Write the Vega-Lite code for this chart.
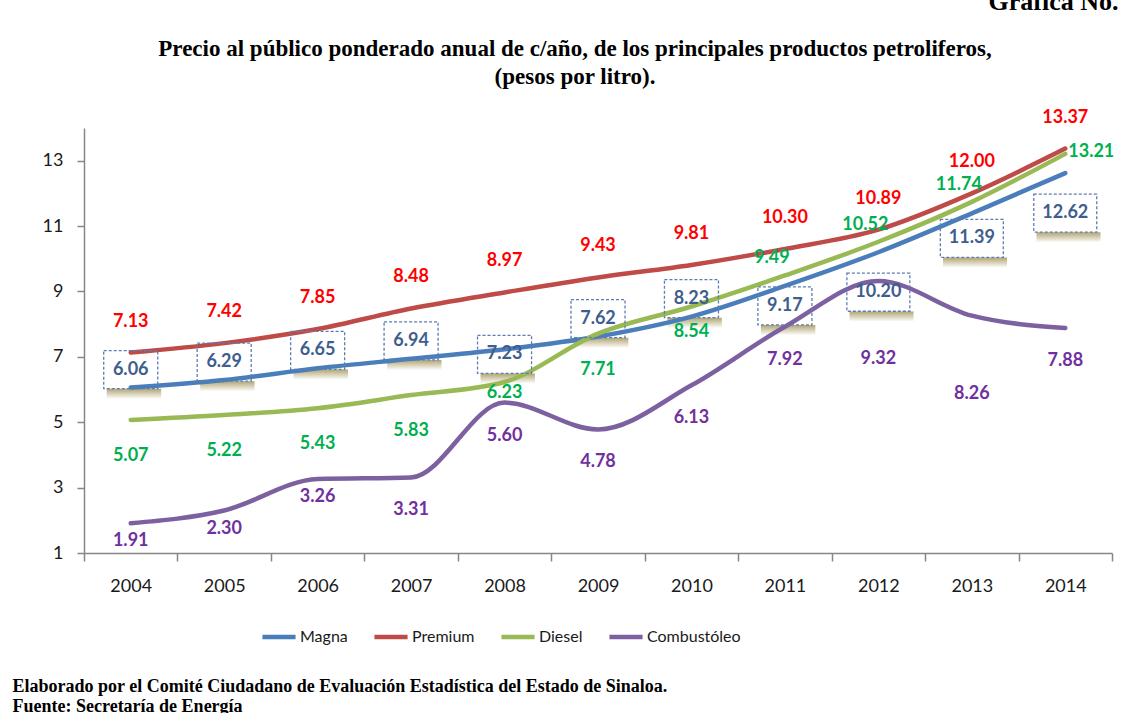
{
  "$schema": "https://vega.github.io/schema/vega-lite/v6.json",
  "width": 1028,
  "height": 425,
  "autosize": {"type": "none"},
  "padding": {"left": 84, "top": 128, "right": 18, "bottom": 160},
  "background": "white",
  "title": {
    "text": ["Precio al público ponderado anual de c/año, de los principales productos petroliferos,", "(pesos por litro)."],
    "font": "Liberation Serif", "fontSize": 23, "fontWeight": "bold", "color": "#000000",
    "anchor": "middle", "frame": "group", "dx": -23, "offset": 0, "dy": 101, "lineHeight": 28
  },
  "config": {
    "view": {"stroke": null},
    "axis": {"grid": false, "domainColor": "#868686", "domainWidth": 1.5, "tickColor": "#868686", "tickWidth": 1.5, "labelFont": "Lato", "labelFontSize": 18, "labelColor": "#1a1a1a"}
  },
  "data": {"values": [
    {"year": "2004", "series": "Magna", "value": 6.06},
    {"year": "2005", "series": "Magna", "value": 6.29},
    {"year": "2006", "series": "Magna", "value": 6.65},
    {"year": "2007", "series": "Magna", "value": 6.94},
    {"year": "2008", "series": "Magna", "value": 7.23},
    {"year": "2009", "series": "Magna", "value": 7.62},
    {"year": "2010", "series": "Magna", "value": 8.23},
    {"year": "2011", "series": "Magna", "value": 9.17},
    {"year": "2012", "series": "Magna", "value": 10.20},
    {"year": "2013", "series": "Magna", "value": 11.39},
    {"year": "2014", "series": "Magna", "value": 12.62},
    {"year": "2004", "series": "Premium", "value": 7.13},
    {"year": "2005", "series": "Premium", "value": 7.42},
    {"year": "2006", "series": "Premium", "value": 7.85},
    {"year": "2007", "series": "Premium", "value": 8.48},
    {"year": "2008", "series": "Premium", "value": 8.97},
    {"year": "2009", "series": "Premium", "value": 9.43},
    {"year": "2010", "series": "Premium", "value": 9.81},
    {"year": "2011", "series": "Premium", "value": 10.30},
    {"year": "2012", "series": "Premium", "value": 10.89},
    {"year": "2013", "series": "Premium", "value": 12.00},
    {"year": "2014", "series": "Premium", "value": 13.37},
    {"year": "2004", "series": "Diesel", "value": 5.07},
    {"year": "2005", "series": "Diesel", "value": 5.22},
    {"year": "2006", "series": "Diesel", "value": 5.43},
    {"year": "2007", "series": "Diesel", "value": 5.83},
    {"year": "2008", "series": "Diesel", "value": 6.23},
    {"year": "2009", "series": "Diesel", "value": 7.71},
    {"year": "2010", "series": "Diesel", "value": 8.54},
    {"year": "2011", "series": "Diesel", "value": 9.49},
    {"year": "2012", "series": "Diesel", "value": 10.52},
    {"year": "2013", "series": "Diesel", "value": 11.74},
    {"year": "2014", "series": "Diesel", "value": 13.21},
    {"year": "2004", "series": "Combustóleo", "value": 1.91},
    {"year": "2005", "series": "Combustóleo", "value": 2.30},
    {"year": "2006", "series": "Combustóleo", "value": 3.26},
    {"year": "2007", "series": "Combustóleo", "value": 3.31},
    {"year": "2008", "series": "Combustóleo", "value": 5.60},
    {"year": "2009", "series": "Combustóleo", "value": 4.78},
    {"year": "2010", "series": "Combustóleo", "value": 6.13},
    {"year": "2011", "series": "Combustóleo", "value": 7.92},
    {"year": "2012", "series": "Combustóleo", "value": 9.32},
    {"year": "2013", "series": "Combustóleo", "value": 8.26},
    {"year": "2014", "series": "Combustóleo", "value": 7.88}
  ]},
  "encoding": {
    "x": {
      "field": "year", "type": "ordinal",
      "scale": {"paddingInner": 0, "paddingOuter": 0},
      "axis": {
        "labelAngle": 0, "tickBand": "extent", "tickSize": 8, "labelPadding": 16,
        "title": ["Elaborado por el Comité Ciudadano de Evaluación Estadística del Estado de Sinaloa.", "Fuente: Secretaría de Energía"],
        "titleX": -72, "titleY": 138, "titleAlign": "left", "titleAnchor": "start", "titleBaseline": "alphabetic",
        "titleFont": "Liberation Serif", "titleFontSize": 18, "titleFontWeight": "bold", "titleColor": "#000000", "titleLineHeight": 20
      }
    },
    "y": {
      "field": "value", "type": "quantitative",
      "scale": {"domain": [1, 14], "nice": false, "zero": false},
      "axis": {
        "values": [1, 3, 5, 7, 9, 11, 13], "tickSize": 7, "labelPadding": 14,
        "title": "Gráfica No.", "titleAngle": 0, "titleX": 904, "titleY": -119, "titleAlign": "left", "titleBaseline": "alphabetic",
        "titleFont": "Liberation Serif", "titleFontSize": 26, "titleFontWeight": "bold", "titleColor": "#000000"
      }
    }
  },
  "layer": [
    {"transform": [{"filter": {"and": [{"field": "series", "equal": "Magna"}, {"field": "year", "oneOf": ["2004", "2005", "2006", "2007", "2009", "2010"]}]}}],
     "mark": {"type": "point", "shape": "M-0.75,0.6H0.95V0.92H-0.75Z", "size": 4096, "filled": true, "fill": {"gradient": "linear", "x1": 0, "y1": 0, "x2": 0, "y2": 1, "stops": [{"offset": 0, "color": "#A3955A"}, {"offset": 1, "color": "#FFFFFF"}]}, "opacity": 0.85, "strokeWidth": 0, "yOffset": -18}},
    {"transform": [{"filter": {"and": [{"field": "series", "equal": "Magna"}, {"field": "year", "oneOf": ["2008"]}]}}],
     "mark": {"type": "point", "shape": "M-0.75,0.6H0.95V0.92H-0.75Z", "size": 4096, "filled": true, "fill": {"gradient": "linear", "x1": 0, "y1": 0, "x2": 0, "y2": 1, "stops": [{"offset": 0, "color": "#A3955A"}, {"offset": 1, "color": "#FFFFFF"}]}, "opacity": 0.85, "strokeWidth": 0, "yOffset": 5}},
    {"transform": [{"filter": {"and": [{"field": "series", "equal": "Magna"}, {"field": "year", "oneOf": ["2011"]}]}}],
     "mark": {"type": "point", "shape": "M-0.75,0.6H0.95V0.92H-0.75Z", "size": 4096, "filled": true, "fill": {"gradient": "linear", "x1": 0, "y1": 0, "x2": 0, "y2": 1, "stops": [{"offset": 0, "color": "#A3955A"}, {"offset": 1, "color": "#FFFFFF"}]}, "opacity": 0.85, "strokeWidth": 0, "yOffset": 20}},
    {"transform": [{"filter": {"and": [{"field": "series", "equal": "Magna"}, {"field": "year", "oneOf": ["2013"]}]}}],
     "mark": {"type": "point", "shape": "M-0.9,0.6H1.1V0.92H-0.9Z", "size": 4096, "filled": true, "fill": {"gradient": "linear", "x1": 0, "y1": 0, "x2": 0, "y2": 1, "stops": [{"offset": 0, "color": "#A3955A"}, {"offset": 1, "color": "#FFFFFF"}]}, "opacity": 0.85, "strokeWidth": 0, "yOffset": 25}},
    {"transform": [{"filter": {"and": [{"field": "series", "equal": "Magna"}, {"field": "year", "oneOf": ["2012", "2014"]}]}}],
     "mark": {"type": "point", "shape": "M-0.9,0.6H1.1V0.92H-0.9Z", "size": 4096, "filled": true, "fill": {"gradient": "linear", "x1": 0, "y1": 0, "x2": 0, "y2": 1, "stops": [{"offset": 0, "color": "#A3955A"}, {"offset": 1, "color": "#FFFFFF"}]}, "opacity": 0.85, "strokeWidth": 0, "yOffset": 40}},
    {"mark": {"type": "line", "interpolate": "monotone", "strokeWidth": 4.5, "strokeCap": "round"},
     "encoding": {
       "color": {"field": "series", "type": "nominal",
         "scale": {"domain": ["Magna", "Premium", "Diesel", "Combustóleo"], "range": ["#4A7EBB", "#BE4B48", "#98B954", "#7D60A0"]},
         "legend": {"orient": "none", "legendX": 176, "legendY": 490, "direction": "horizontal", "columns": 4, "columnPadding": 17, "padding": 0,
           "title": null, "symbolType": "stroke", "symbolSize": 1100, "symbolStrokeWidth": 4.5, "labelOffset": 2,
           "labelFont": "Lato", "labelFontSize": 16, "labelColor": "#1a1a1a"}
       }
     }
    },
    {"transform": [{"filter": {"field": "series", "equal": "Premium"}}],
     "mark": {"type": "text", "font": "Lato", "fontSize": 18, "fontWeight": "bold", "color": "#FF0000", "dy": -31},
     "encoding": {"text": {"field": "value", "type": "quantitative", "format": ".2f"}}},
    {"transform": [{"filter": {"and": [{"field": "series", "equal": "Diesel"}, {"field": "year", "oneOf": ["2004", "2005", "2006", "2007", "2009"]}]}}],
     "mark": {"type": "text", "font": "Lato", "fontSize": 18, "fontWeight": "bold", "color": "#00B050", "dy": 36},
     "encoding": {"text": {"field": "value", "type": "quantitative", "format": ".2f"}}},
    {"transform": [{"filter": {"and": [{"field": "series", "equal": "Diesel"}, {"field": "year", "oneOf": ["2008"]}]}}],
     "mark": {"type": "text", "font": "Lato", "fontSize": 18, "fontWeight": "bold", "color": "#00B050", "dy": 11},
     "encoding": {"text": {"field": "value", "type": "quantitative", "format": ".2f"}}},
    {"transform": [{"filter": {"and": [{"field": "series", "equal": "Diesel"}, {"field": "year", "oneOf": ["2010"]}]}}],
     "mark": {"type": "text", "font": "Lato", "fontSize": 18, "fontWeight": "bold", "color": "#00B050", "dy": 25},
     "encoding": {"text": {"field": "value", "type": "quantitative", "format": ".2f"}}},
    {"transform": [{"filter": {"and": [{"field": "series", "equal": "Diesel"}, {"field": "year", "oneOf": ["2011", "2012", "2013"]}]}}],
     "mark": {"type": "text", "font": "Lato", "fontSize": 18, "fontWeight": "bold", "color": "#00B050", "dy": -17, "dx": -13},
     "encoding": {"text": {"field": "value", "type": "quantitative", "format": ".2f"}}},
    {"transform": [{"filter": {"and": [{"field": "series", "equal": "Diesel"}, {"field": "year", "oneOf": ["2014"]}]}}],
     "mark": {"type": "text", "font": "Lato", "fontSize": 18, "fontWeight": "bold", "color": "#00B050", "dy": -2, "dx": 3, "align": "left"},
     "encoding": {"text": {"field": "value", "type": "quantitative", "format": ".2f"}}},
    {"transform": [{"filter": {"and": [{"field": "series", "equal": "Combustóleo"}, {"field": "year", "oneOf": ["2004", "2005", "2006"]}]}}],
     "mark": {"type": "text", "font": "Lato", "fontSize": 18, "fontWeight": "bold", "color": "#7030A0", "dy": 18},
     "encoding": {"text": {"field": "value", "type": "quantitative", "format": ".2f"}}},
    {"transform": [{"filter": {"and": [{"field": "series", "equal": "Combustóleo"}, {"field": "year", "oneOf": ["2007", "2008", "2009", "2010", "2011", "2014"]}]}}],
     "mark": {"type": "text", "font": "Lato", "fontSize": 18, "fontWeight": "bold", "color": "#7030A0", "dy": 33},
     "encoding": {"text": {"field": "value", "type": "quantitative", "format": ".2f"}}},
    {"transform": [{"filter": {"and": [{"field": "series", "equal": "Combustóleo"}, {"field": "year", "oneOf": ["2012", "2013"]}]}}],
     "mark": {"type": "text", "font": "Lato", "fontSize": 18, "fontWeight": "bold", "color": "#7030A0", "dy": 78},
     "encoding": {"text": {"field": "value", "type": "quantitative", "format": ".2f"}}},
    {"transform": [{"filter": {"and": [{"field": "series", "equal": "Magna"}, {"field": "year", "oneOf": ["2004", "2005", "2006", "2007", "2009", "2010"]}]}}],
     "layer": [
       {"mark": {"type": "point", "shape": "M-0.844,-0.594H0.844V0.594H-0.844Z", "size": 4096, "filled": false, "stroke": "#5B7DB1", "strokeDash": [3, 2], "strokeWidth": 1.3, "opacity": 1, "yOffset": -18}},
       {"mark": {"type": "text", "font": "Lato", "fontSize": 18, "fontWeight": "bold", "color": "#3E5E8E", "dy": -18},
        "encoding": {"text": {"field": "value", "type": "quantitative", "format": ".2f"}}}
     ]},
    {"transform": [{"filter": {"and": [{"field": "series", "equal": "Magna"}, {"field": "year", "oneOf": ["2008"]}]}}],
     "layer": [
       {"mark": {"type": "point", "shape": "M-0.844,-0.594H0.844V0.594H-0.844Z", "size": 4096, "filled": false, "stroke": "#5B7DB1", "strokeDash": [3, 2], "strokeWidth": 1.3, "opacity": 1, "yOffset": 5}},
       {"mark": {"type": "text", "font": "Lato", "fontSize": 18, "fontWeight": "bold", "color": "#3E5E8E", "dy": 5},
        "encoding": {"text": {"field": "value", "type": "quantitative", "format": ".2f"}}}
     ]},
    {"transform": [{"filter": {"and": [{"field": "series", "equal": "Magna"}, {"field": "year", "oneOf": ["2011"]}]}}],
     "layer": [
       {"mark": {"type": "point", "shape": "M-0.844,-0.594H0.844V0.594H-0.844Z", "size": 4096, "filled": false, "stroke": "#5B7DB1", "strokeDash": [3, 2], "strokeWidth": 1.3, "opacity": 1, "yOffset": 20}},
       {"mark": {"type": "text", "font": "Lato", "fontSize": 18, "fontWeight": "bold", "color": "#3E5E8E", "dy": 20},
        "encoding": {"text": {"field": "value", "type": "quantitative", "format": ".2f"}}}
     ]},
    {"transform": [{"filter": {"and": [{"field": "series", "equal": "Magna"}, {"field": "year", "oneOf": ["2013"]}]}}],
     "layer": [
       {"mark": {"type": "point", "shape": "M-0.984,-0.594H0.984V0.594H-0.984Z", "size": 4096, "filled": false, "stroke": "#5B7DB1", "strokeDash": [3, 2], "strokeWidth": 1.3, "opacity": 1, "yOffset": 25}},
       {"mark": {"type": "text", "font": "Lato", "fontSize": 18, "fontWeight": "bold", "color": "#3E5E8E", "dy": 25},
        "encoding": {"text": {"field": "value", "type": "quantitative", "format": ".2f"}}}
     ]},
    {"transform": [{"filter": {"and": [{"field": "series", "equal": "Magna"}, {"field": "year", "oneOf": ["2012", "2014"]}]}}],
     "layer": [
       {"mark": {"type": "point", "shape": "M-0.984,-0.594H0.984V0.594H-0.984Z", "size": 4096, "filled": false, "stroke": "#5B7DB1", "strokeDash": [3, 2], "strokeWidth": 1.3, "opacity": 1, "yOffset": 40}},
       {"mark": {"type": "text", "font": "Lato", "fontSize": 18, "fontWeight": "bold", "color": "#3E5E8E", "dy": 40},
        "encoding": {"text": {"field": "value", "type": "quantitative", "format": ".2f"}}}
     ]}
  ]
}
